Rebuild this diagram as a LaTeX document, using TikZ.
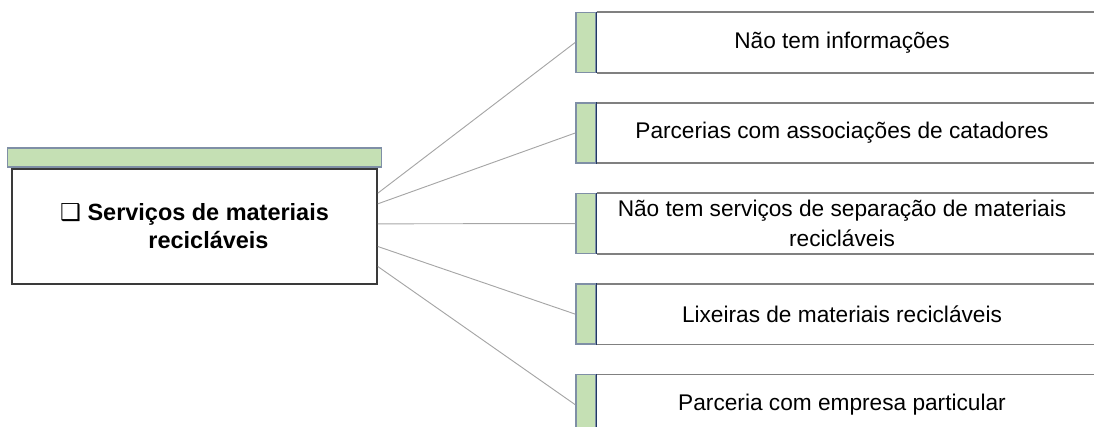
\documentclass[tikz,border=0pt]{standalone}
\usepackage{fontspec}
\setmainfont{Liberation Sans}
\newfontfamily\symfont{DejaVu Sans}
\usepackage{tikz}
\usetikzlibrary{positioning}
\definecolor{vgreen}{HTML}{C5E0B4}
\definecolor{vnavy}{HTML}{1F3864}
\definecolor{vtagline}{HTML}{7F8FA6}
\definecolor{vboxline}{HTML}{808080}
\definecolor{vmainline}{HTML}{3A3A3A}
\definecolor{vlink}{HTML}{A6A6A6}
\tikzset{
  mainbox/.style={rectangle, draw=vmainline, line width=1.2pt, fill=white,
                  minimum width=273.75pt, minimum height=86.25pt, align=center,
                  font=\fontsize{17.6}{21}\selectfont\bfseries},
  mainbar/.style={rectangle, draw=vtagline, line width=1.3pt, fill=vgreen, inner sep=0pt,
                  minimum width=280.5pt, minimum height=14.25pt},
  itembox/.style={rectangle, fill=white, inner sep=0pt, minimum width=367.5pt,
                  minimum height=45pt, align=center, font=\fontsize{17}{22.5}\selectfont},
  tag/.style={rectangle, draw=vtagline, line width=1.2pt, fill=vgreen, inner sep=0pt,
              minimum width=15pt, minimum height=45pt},
  itemedge/.style={draw=vboxline, line width=1.2pt},
  divider/.style={draw=vnavy, line width=0.8pt},
  link/.style={draw=vlink, line width=0.7pt}
}
\begin{document}
\begin{tikzpicture}[x=0.75pt, y=-0.75pt, node distance=22.5pt and 0pt]
  \path[use as bounding box, clip] (0,0) rectangle (1094,427);

  % left box
  \node[mainbox] (servicos) at (194.5,226.5)
    {{\symfont\fontsize{17.5}{17.5}\selectfont ❑} Serviços de materiais\\\hspace*{21pt}recicláveis};
  \node[mainbar, above=0pt of servicos] (servicosbar) {};

  % right boxes
  \node[itembox] (item1) at (842,42.5) {Não tem informações};
  \node[itembox, below=of item1] (item2) {Parcerias com associações de catadores};
  \node[itembox, below=of item2] (item3) {Não tem serviços de separação de materiais\\recicláveis};
  \node[itembox, below=of item3] (item4) {Lixeiras de materiais recicláveis};
  \node[itembox, below=of item4] (item5) {Parceria com empresa particular};

  \foreach \i in {1,...,5} {
    \node[tag, left=0pt of item\i] (tag\i) {};
    \draw[itemedge] (item\i.north west) -- ++(520,0);
    \draw[itemedge] (item\i.south west) -- ++(520,0);
    \draw[divider] (tag\i.north east) -- (tag\i.south east);
  }

  \foreach \i/\dy in {1/25pt, 2/17pt, 3/2pt, 4/-15pt, 5/-30pt}
    \draw[link] ([yshift=\dy]servicos.east) -- (tag\i.west);
\end{tikzpicture}
\end{document}
